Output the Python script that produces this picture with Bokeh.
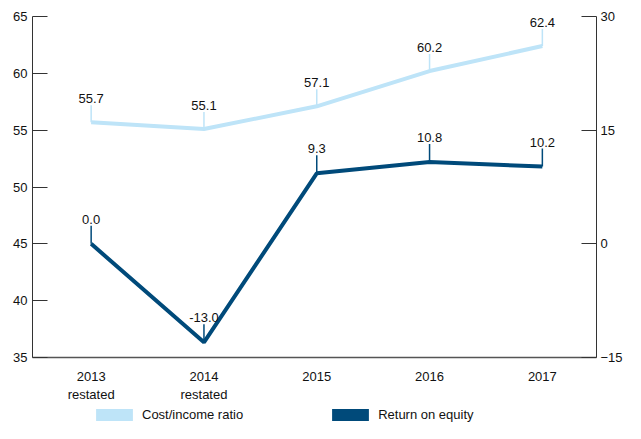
import math
from bokeh.plotting import figure
from bokeh.layouts import column
from bokeh.models import (ColumnDataSource, Range1d, LinearAxis, FixedTicker,
                          Legend, LegendItem)
from bokeh.core.properties import value
from bokeh.embed import file_html
from bokeh.resources import INLINE

categories = ["2013\nrestated", "2014\nrestated", "2015", "2016", "2017"]
cost_income = [55.7, 55.1, 57.1, 60.2, 62.4]
roe = [0.0, -13.0, 9.3, 10.8, 10.2]
left_ticks = [35, 40, 45, 50, 55, 60, 65]
right_ticks = [-15, 0, 15, 30]
series_names = ["Cost/income ratio", "Return on equity"]

LIGHT = "#bee4f8"
DARK = "#004a7a"
FONT = "Liberation Sans"

xs = list(range(len(categories)))
src = ColumnDataSource(dict(
    x=xs, ci=cost_income, roe=roe,
    ci_lbl=[f"{v:.1f}" for v in cost_income],
    roe_lbl=[f"{v:.1f}" for v in roe],
))

p = figure(width=625, height=404, output_backend="svg", toolbar_location=None,
           x_range=Range1d(-0.52, 4.48), y_range=Range1d(35, 65),
           min_border_left=32, min_border_right=0, min_border_top=16,
           min_border_bottom=44)
p.extra_y_ranges = {"roe": Range1d(-15, 30)}
p.outline_line_color = None
p.xgrid.visible = False
p.ygrid.visible = False

# x axis
xa = p.xaxis[0]
xa.ticker = FixedTicker(ticks=xs)
xa.major_label_overrides = {i: c for i, c in enumerate(categories)}
xa.major_tick_line_color = None
xa.minor_tick_line_color = None
xa.axis_line_color = "#555555"
xa.axis_line_width = 1.5
xa.major_label_text_font = FONT
xa.major_label_text_font_size = "13px"
xa.major_label_text_color = "#111111"
xa.major_label_standoff = 5

# left axis
ya = p.yaxis[0]
ya.ticker = FixedTicker(ticks=left_ticks)
ya.major_tick_in = 15
ya.major_tick_out = 0
ya.minor_tick_line_color = None
ya.axis_line_color = "#333333"
ya.major_tick_line_color = "#333333"
ya.major_label_text_font = FONT
ya.major_label_text_font_size = "13px"
ya.major_label_text_color = "#111111"
ya.major_label_standoff = 5

# right axis
ra = LinearAxis(y_range_name="roe", ticker=FixedTicker(ticks=right_ticks))
ra.major_tick_in = 15
ra.major_tick_out = 0
ra.minor_tick_line_color = None
ra.axis_line_color = "#333333"
ra.major_tick_line_color = "#333333"
ra.major_label_text_font = FONT
ra.major_label_text_font_size = "13px"
ra.major_label_text_color = "#111111"
ra.major_label_standoff = 4
ra.axis_label_standoff = 0
p.add_layout(ra, "right")

# lines
p.line("x", "ci", source=src, line_color=LIGHT, line_width=4)
p.line("x", "roe", source=src, line_color=DARK, line_width=4, y_range_name="roe")

# leader lines
p.ray("x", "ci", source=src, length=17, length_units="screen", angle=math.pi / 2,
      line_color=LIGHT, line_width=1.5)
p.ray("x", "roe", source=src, length=18, length_units="screen", angle=math.pi / 2,
      line_color=DARK, line_width=1.5, y_range_name="roe")

# labels
p.text("x", "ci", text="ci_lbl", source=src, text_align="center",
       text_baseline="bottom", y_offset=-19, text_font=value(FONT),
       text_font_size="13px", text_color="#111111")
p.text("x", "roe", text="roe_lbl", source=src, text_align="center",
       text_baseline="bottom", y_offset=-20, text_font=value(FONT),
       text_font_size="13px", text_color="#111111", y_range_name="roe")

# legend strip (swatch renderers carry no drawable data)
lp = figure(width=625, height=19, output_backend="svg", toolbar_location=None,
            x_axis_type=None, y_axis_type=None,
            x_range=Range1d(0, 1), y_range=Range1d(0, 1),
            min_border_left=32, min_border_right=0, min_border_top=0,
            min_border_bottom=0)
lp.outline_line_color = None
lp.xgrid.visible = False
lp.ygrid.visible = False
nan = float("nan")
swatch_src = ColumnDataSource(dict(l=[nan], r=[nan], b=[nan], t=[nan]))
sw1 = lp.quad(left="l", right="r", bottom="b", top="t", source=swatch_src,
              fill_color=LIGHT, line_color=None)
sw2 = lp.quad(left="l", right="r", bottom="b", top="t", source=swatch_src,
              fill_color=DARK, line_color=None)
legend = Legend(items=[LegendItem(label=series_names[0], renderers=[sw1]),
                       LegendItem(label=series_names[1], renderers=[sw2])],
                orientation="horizontal", location=(59, 1),
                glyph_width=46, glyph_height=15, label_standoff=5,
                spacing=84, padding=0, margin=0,
                border_line_color=None, background_fill_alpha=0,
                label_text_font=FONT, label_text_font_size="13px",
                label_text_color="#111111")
lp.add_layout(legend, "center")

layout = column(p, lp, spacing=0)
open("out.html", "w").write(file_html(layout, INLINE))
